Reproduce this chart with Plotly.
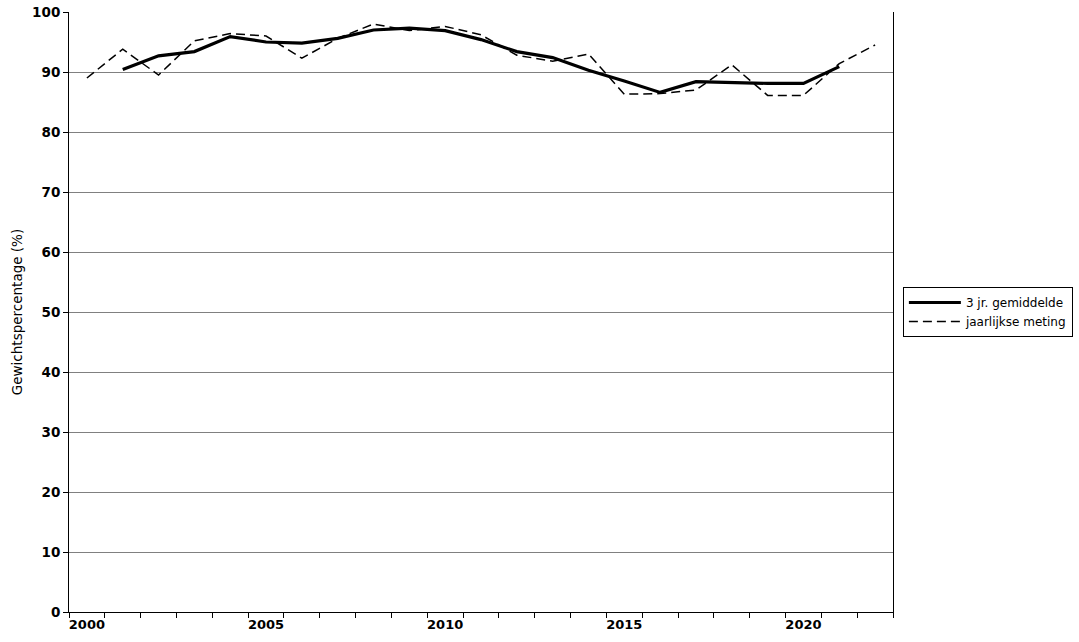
import plotly.graph_objects as go

years = [str(y) for y in range(2000, 2023)]
jaarlijks = [89.0, 93.8, 89.5, 95.2, 96.4, 96.0, 92.3, 95.6, 98.0, 96.9, 97.6, 96.2,
             92.8, 91.8, 93.0, 86.3, 86.4, 87.0, 91.2, 86.1, 86.1, 91.4, 94.5]
gem_years = [str(y) for y in range(2001, 2022)]
gemiddelde = [90.4, 92.7, 93.4, 95.9, 95.0, 94.8, 95.6, 97.0, 97.3, 96.9, 95.4,
              93.4, 92.4, 90.3, 88.5, 86.6, 88.4, 88.2, 88.1, 88.1, 90.9]
tick_labels = [y if int(y) % 5 == 0 else "" for y in years]

fig = go.Figure()
fig.add_trace(go.Scatter(x=gem_years, y=gemiddelde, mode="lines", name="3 jr. gemiddelde",
                         line=dict(color="black", width=3.2)))
fig.add_trace(go.Scatter(x=years, y=jaarlijks, mode="lines", name="jaarlijkse meting",
                         line=dict(color="black", width=1.5, dash="9px,5px")))

fig.update_layout(
    width=1079, height=642,
    margin=dict(l=69, r=186, t=12, b=30, autoexpand=False),
    paper_bgcolor="white", plot_bgcolor="white",
    font=dict(family="DejaVu Sans", color="black"),
    showlegend=True,
    legend=dict(x=1.012, y=0.5, xanchor="left", yanchor="middle",
                bordercolor="black", borderwidth=1, bgcolor="white",
                font=dict(size=12, family="DejaVu Sans"),
                tracegroupgap=0, itemwidth=52),
    xaxis=dict(type="category", categoryorder="array", categoryarray=years,
               tickmode="array", tickvals=years, ticktext=tick_labels,
               tickson="boundaries", ticks="outside", ticklen=5, tickcolor="black",
               showgrid=False, showline=True, linecolor="black", linewidth=1,
               range=[-0.5, 22.5], tickangle=0, automargin=False,
               ticklabeloverflow="allow",
               tickfont=dict(size=13, family="DejaVu Sans", weight="bold")),
    yaxis=dict(range=[0, 100], dtick=10, tick0=0, ticks="outside", ticklen=5,
               tickcolor="black", showgrid=True, gridcolor="#808080", gridwidth=1,
               showline=True, linecolor="black", linewidth=1, mirror=True,
               zeroline=False, automargin=False, ticklabeloverflow="allow",
               tickfont=dict(size=13.5, family="DejaVu Sans", weight="bold"),
               title=dict(text="Gewichtspercentage (%)", standoff=6,
                          font=dict(size=13.5, family="DejaVu Sans"))),
)

fig.write_html("out.html", config={"displayModeBar": False},
               post_script="document.body.style.margin='0';")
